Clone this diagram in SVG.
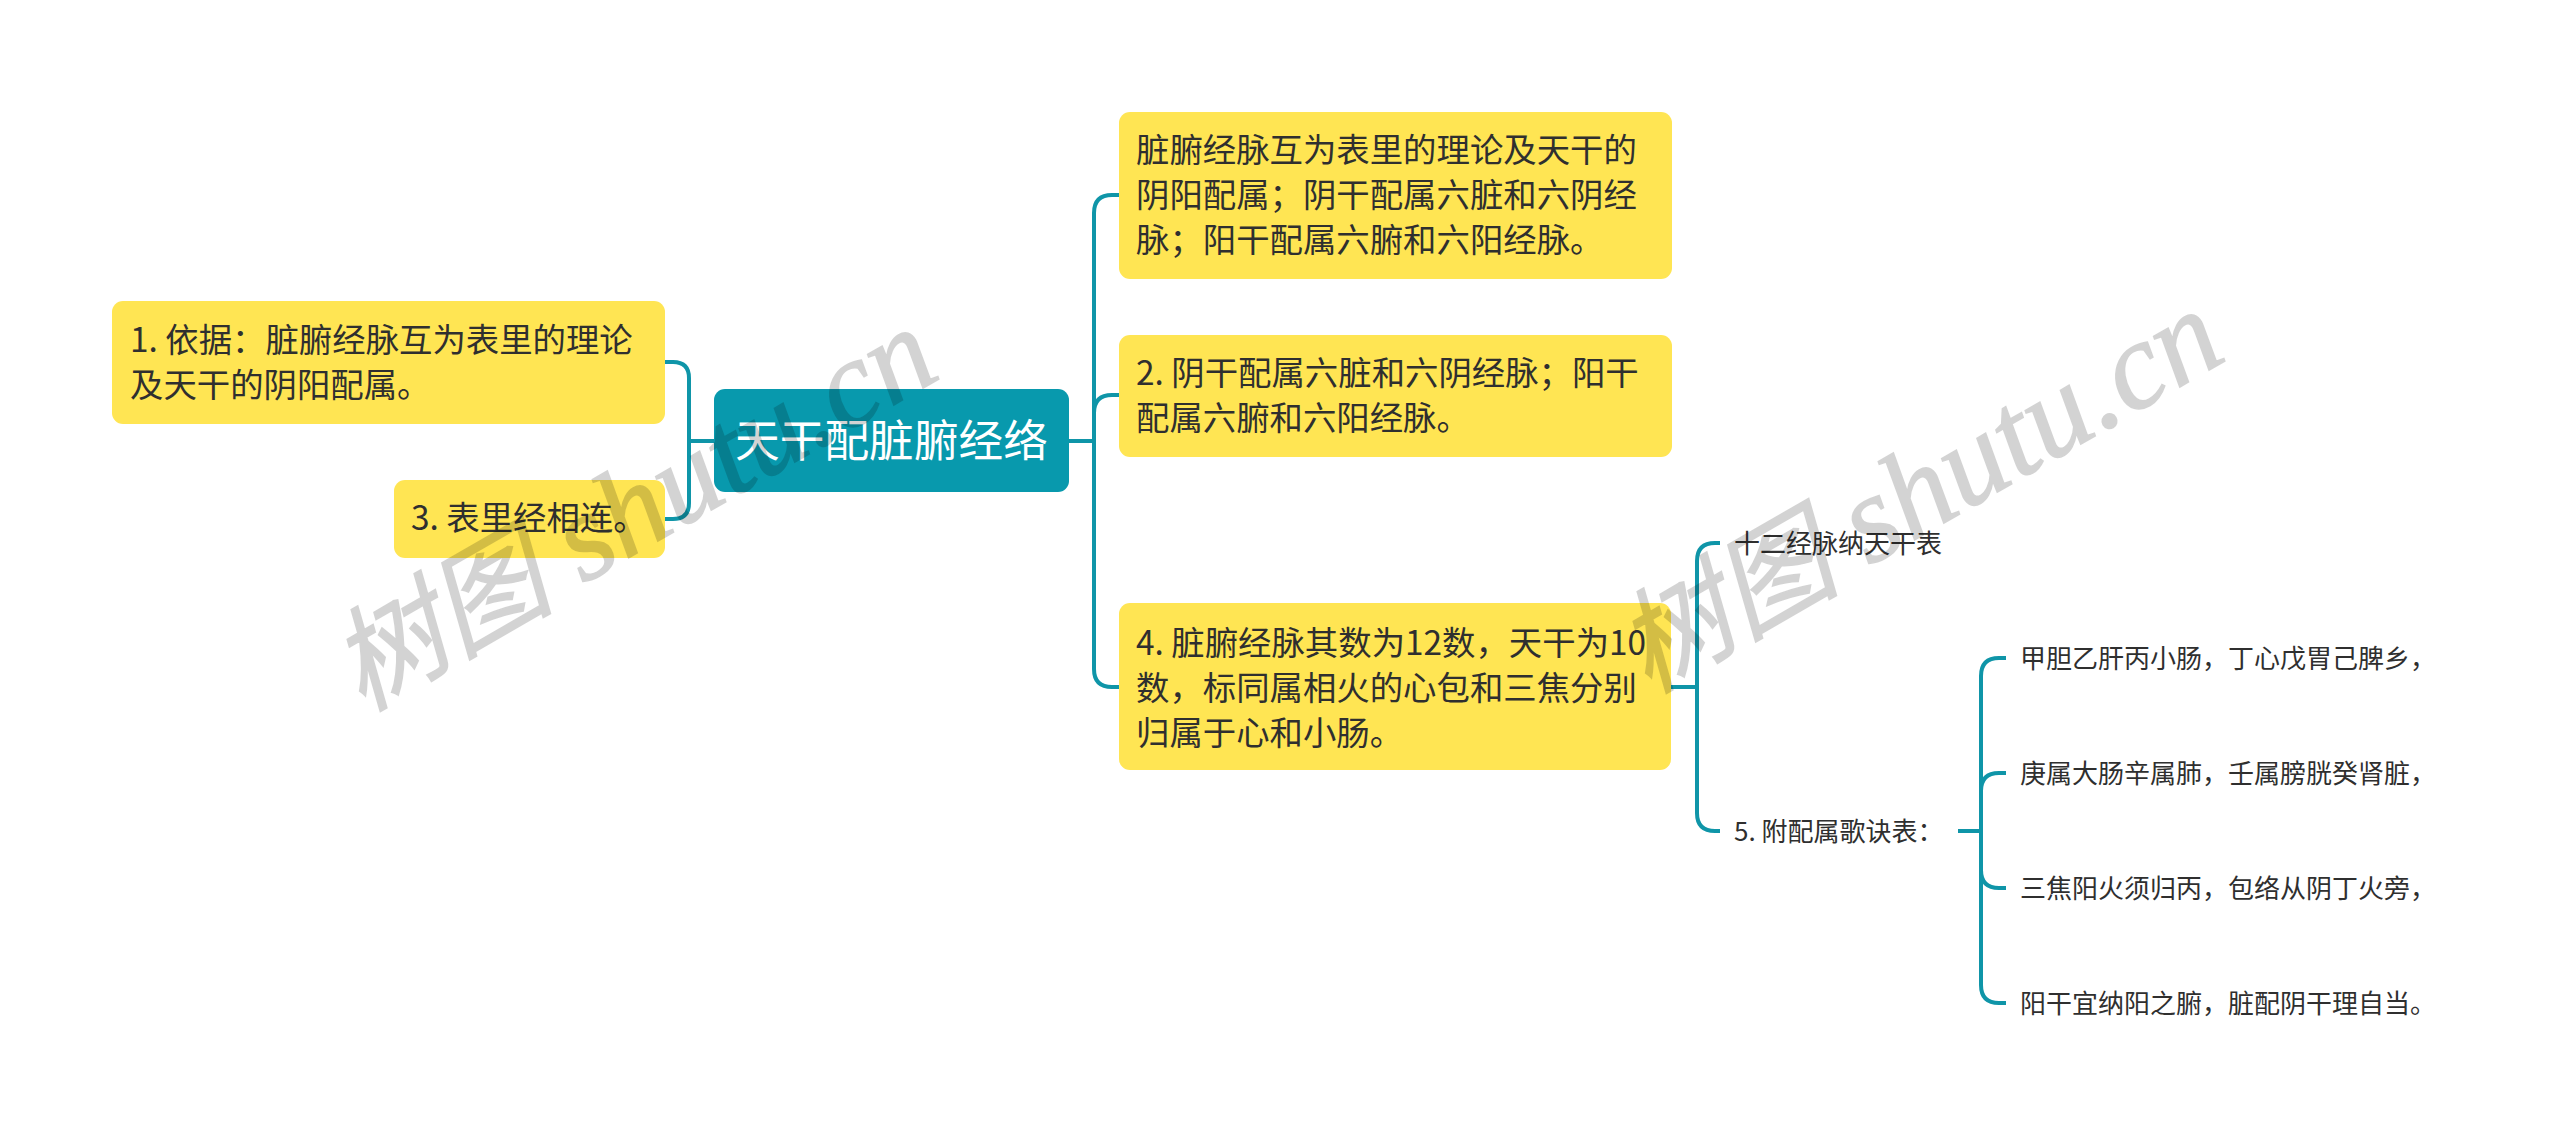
<svg xmlns="http://www.w3.org/2000/svg" width="2560" height="1145" viewBox="0 0 2560 1145">
<style>
text{font-family:"Noto Sans CJK SC","Liberation Sans",sans-serif;fill:#2f2f2f}
.b{fill:#FFE553}
.m{font-size:33.4px}
.s{font-size:26px}
.c{fill:none;stroke:#0F95A8;stroke-width:4}
.w{font-family:"Liberation Serif","Noto Sans CJK SC",serif;font-style:italic;font-size:124px;fill:#000;stroke:#000;stroke-width:1.5;opacity:.17}
.z{font-size:112px}
</style>
<rect width="2560" height="1145" fill="#fff"/>
<g id="connectors">
<path class="c" d="M665 362H673Q689 362 689 378V503Q689 519 673 519H665M689 441H714"/>
<path class="c" d="M1069 441H1094M1119 195H1112Q1094 195 1094 213V669Q1094 687 1112 687H1119M1119 395H1112Q1094 395 1094 413"/>
<path class="c" d="M1671 687H1697M1720 543H1715Q1697 543 1697 561V813Q1697 831 1715 831H1720"/>
<path class="c" d="M1958 831H1981M2006 658H1999Q1981 658 1981 676V985Q1981 1003 1999 1003H2006M2006 773H1999Q1981 773 1981 791M2006 888H1999Q1981 888 1981 870"/>
</g>
<g id="root"><rect x="714" y="389" width="355" height="103" rx="11" fill="#0899AD"/><text x="735" y="457" font-size="44.7" style="fill:#fff">天干配脏腑经络</text></g>
<g id="n1"><rect class="b" x="112" y="301" width="553" height="123" rx="11"/><text class="m" x="130" y="352">1. 依据：脏腑经脉互为表里的理论</text><text class="m" x="130" y="397">及天干的阴阳配属。</text></g>
<g id="n3"><rect class="b" x="394" y="480" width="271" height="78" rx="11"/><text class="m" x="411" y="530">3. 表里经相连。</text></g>
<g id="n0"><rect class="b" x="1119" y="112" width="553" height="167" rx="11"/><text class="m" x="1136" y="162">脏腑经脉互为表里的理论及天干的</text><text class="m" x="1136" y="207">阴阳配属；阴干配属六脏和六阴经</text><text class="m" x="1136" y="252">脉；阳干配属六腑和六阳经脉。</text></g>
<g id="n2"><rect class="b" x="1119" y="335" width="553" height="122" rx="11"/><text class="m" x="1136" y="385">2. 阴干配属六脏和六阴经脉；阳干</text><text class="m" x="1136" y="430">配属六腑和六阳经脉。</text></g>
<g id="n4"><rect class="b" x="1119" y="603" width="552" height="167" rx="11"/><text class="m" x="1136" y="655">4. 脏腑经脉其数为12数，天干为10</text><text class="m" x="1136" y="700">数，标同属相火的心包和三焦分别</text><text class="m" x="1136" y="745">归属于心和小肠。</text></g>
<g id="n41"><text class="s" x="1734" y="553">十二经脉纳天干表</text></g>
<g id="n42"><text class="s" x="1734" y="841">5. 附配属歌诀表：</text></g>
<g id="n421"><text class="s" x="2020" y="668">甲胆乙肝丙小肠，丁心戊胃己脾乡，</text></g>
<g id="n422"><text class="s" x="2020" y="783">庚属大肠辛属肺，壬属膀胱癸肾脏，</text></g>
<g id="n423"><text class="s" x="2020" y="898">三焦阳火须归丙，包络从阴丁火旁，</text></g>
<g id="n424"><text class="s" x="2020" y="1013">阳干宜纳阳之腑，脏配阴干理自当。</text></g>
<g id="watermark">
<text class="w" transform="translate(362 712) rotate(-30)"><tspan class="z">树图</tspan> shutu.cn</text>
<text class="w" transform="translate(1648 694) rotate(-30)"><tspan class="z">树图</tspan> shutu.cn</text>
</g>
</svg>
